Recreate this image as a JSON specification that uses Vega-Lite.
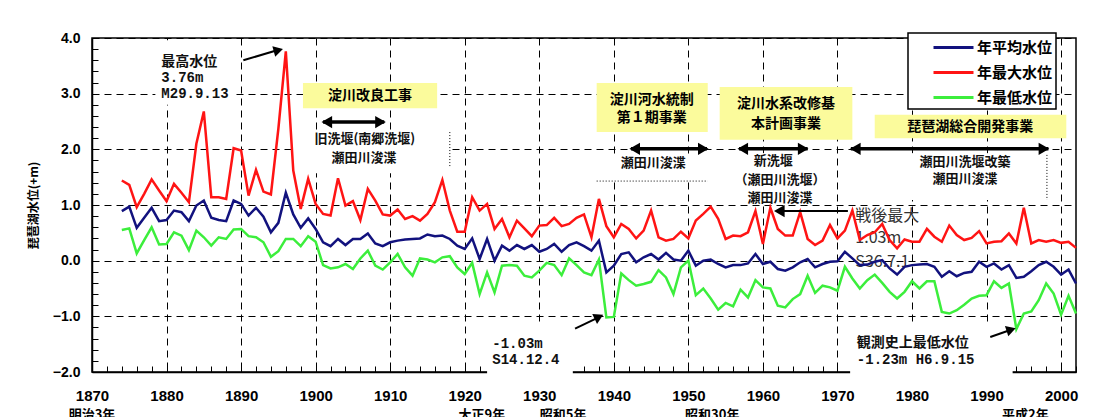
{
  "$schema": "https://vega.github.io/schema/vega-lite/v6.json",
  "width": 984,
  "height": 334,
  "autosize": {"type": "none"},
  "padding": {"left": 92, "top": 38, "right": 25, "bottom": 45},
  "background": "white",
  "config": {
    "view": {"stroke": "black", "strokeWidth": 1.5},
    "legend": {"strokeWidth": 1.5}
  },
  "datasets": {
    "lake": [
      {"year":1874,"年平均水位":0.89,"年最大水位":1.44,"年最低水位":0.55},
      {"year":1875,"年平均水位":0.97,"年最大水位":1.36,"年最低水位":0.58},
      {"year":1876,"年平均水位":0.59,"年最大水位":0.96,"年最低水位":0.13},
      {"year":1877,"年平均水位":0.77,"年最大水位":1.20,"年最低水位":0.37},
      {"year":1878,"年平均水位":0.95,"年最大水位":1.46,"年最低水位":0.60},
      {"year":1879,"年平均水位":0.71,"年最大水位":1.26,"年最低水位":0.29},
      {"year":1880,"年平均水位":0.73,"年最大水位":1.07,"年最低水位":0.30},
      {"year":1881,"年平均水位":0.90,"年最大水位":1.38,"年最低水位":0.51},
      {"year":1882,"年平均水位":0.87,"年最大水位":1.22,"年最低水位":0.45},
      {"year":1883,"年平均水位":0.71,"年最大水位":1.05,"年最低水位":0.19},
      {"year":1884,"年平均水位":0.99,"年最大水位":2.10,"年最低水位":0.54},
      {"year":1885,"年平均水位":1.08,"年最大水位":2.68,"年最低水位":0.42},
      {"year":1886,"年平均水位":0.77,"年最大水位":1.14,"年最低水位":0.27},
      {"year":1887,"年平均水位":0.73,"年最大水位":1.14,"年最低水位":0.42},
      {"year":1888,"年平均水位":0.71,"年最大水位":1.11,"年最低水位":0.39},
      {"year":1889,"年平均水位":1.08,"年最大水位":2.02,"年最低水位":0.56},
      {"year":1890,"年平均水位":1.02,"年最大水位":1.98,"年最低水位":0.57},
      {"year":1891,"年平均水位":0.81,"年最大水位":1.17,"年最低水位":0.44},
      {"year":1892,"年平均水位":0.95,"年最大水位":1.63,"年最低水位":0.42},
      {"year":1893,"年平均水位":0.79,"年最大水位":1.24,"年最低水位":0.33},
      {"year":1894,"年平均水位":0.51,"年最大水位":1.19,"年最低水位":0.07},
      {"year":1895,"年平均水位":0.68,"年最大水位":2.37,"年最低水位":0.17},
      {"year":1896,"年平均水位":1.22,"年最大水位":3.76,"年最低水位":0.39},
      {"year":1897,"年平均水位":0.83,"年最大水位":1.62,"年最低水位":0.39},
      {"year":1898,"年平均水位":0.59,"年最大水位":0.93,"年最低水位":0.26},
      {"year":1899,"年平均水位":0.76,"年最大水位":1.47,"年最低水位":0.44},
      {"year":1900,"年平均水位":0.57,"年最大水位":1.02,"年最低水位":0.34},
      {"year":1901,"年平均水位":0.33,"年最大水位":0.84,"年最低水位":-0.08},
      {"year":1902,"年平均水位":0.26,"年最大水位":0.81,"年最低水位":-0.14},
      {"year":1903,"年平均水位":0.39,"年最大水位":1.48,"年最低水位":-0.12},
      {"year":1904,"年平均水位":0.28,"年最大水位":0.99,"年最低水位":-0.06},
      {"year":1905,"年平均水位":0.39,"年最大水位":1.07,"年最低水位":-0.15},
      {"year":1906,"年平均水位":0.39,"年最大水位":0.73,"年最低水位":0.04},
      {"year":1907,"年平均水位":0.49,"年最大水位":1.29,"年最低水位":0.18},
      {"year":1908,"年平均水位":0.31,"年最大水位":1.08,"年最低水位":-0.09},
      {"year":1909,"年平均水位":0.26,"年最大水位":0.83,"年最低水位":-0.16},
      {"year":1910,"年平均水位":0.33,"年最大水位":0.81,"年最低水位":-0.03},
      {"year":1911,"年平均水位":0.36,"年最大水位":0.92,"年最低水位":0.12},
      {"year":1912,"年平均水位":0.38,"年最大水位":0.75,"年最低水位":-0.12},
      {"year":1913,"年平均水位":0.39,"年最大水位":0.80,"年最低水位":-0.27},
      {"year":1914,"年平均水位":0.40,"年最大水位":0.72,"年最低水位":0.04},
      {"year":1915,"年平均水位":0.47,"年最大水位":0.84,"年最低水位":0.02},
      {"year":1916,"年平均水位":0.44,"年最大水位":1.05,"年最低水位":-0.03},
      {"year":1917,"年平均水位":0.45,"年最大水位":1.45,"年最低水位":0.06},
      {"year":1918,"年平均水位":0.39,"年最大水位":0.90,"年最低水位":0.08},
      {"year":1919,"年平均水位":0.27,"年最大水位":0.52,"年最低水位":-0.12},
      {"year":1920,"年平均水位":0.21,"年最大水位":0.52,"年最低水位":-0.24},
      {"year":1921,"年平均水位":0.40,"年最大水位":1.14,"年最低水位":-0.04},
      {"year":1922,"年平均水位":0.03,"年最大水位":0.90,"年最低水位":-0.60},
      {"year":1923,"年平均水位":0.39,"年最大水位":1.02,"年最低水位":-0.21},
      {"year":1924,"年平均水位":0.00,"年最大水位":0.57,"年最低水位":-0.57},
      {"year":1925,"年平均水位":0.27,"年最大水位":0.75,"年最低水位":-0.09},
      {"year":1926,"年平均水位":0.18,"年最大水位":0.42,"年最低水位":-0.08},
      {"year":1927,"年平均水位":0.28,"年最大水位":0.72,"年最低水位":-0.09},
      {"year":1928,"年平均水位":0.21,"年最大水位":0.58,"年最低水位":-0.27},
      {"year":1929,"年平均水位":0.28,"年最大水位":0.44,"年最低水位":-0.30},
      {"year":1930,"年平均水位":0.16,"年最大水位":0.63,"年最低水位":-0.18},
      {"year":1931,"年平均水位":0.21,"年最大水位":0.64,"年最低水位":-0.04},
      {"year":1932,"年平均水位":0.30,"年最大水位":0.77,"年最低水位":-0.08},
      {"year":1933,"年平均水位":0.16,"年最大水位":0.62,"年最低水位":-0.26},
      {"year":1934,"年平均水位":0.28,"年最大水位":0.66,"年最低水位":0.04},
      {"year":1935,"年平均水位":0.33,"年最大水位":0.77,"年最低水位":-0.08},
      {"year":1936,"年平均水位":0.26,"年最大水位":0.83,"年最低水位":-0.21},
      {"year":1937,"年平均水位":0.18,"年最大水位":0.42,"年最低水位":-0.26},
      {"year":1938,"年平均水位":0.36,"年最大水位":1.11,"年最低水位":0.02},
      {"year":1939,"年平均水位":-0.21,"年最大水位":0.62,"年最低水位":-1.02},
      {"year":1940,"年平均水位":-0.09,"年最大水位":0.42,"年最低水位":-1.01},
      {"year":1941,"年平均水位":0.12,"年最大水位":0.66,"年最低水位":-0.23},
      {"year":1942,"年平均水位":0.15,"年最大水位":0.57,"年最低水位":-0.35},
      {"year":1943,"年平均水位":-0.03,"年最大水位":0.40,"年最低水位":-0.45},
      {"year":1944,"年平均水位":0.06,"年最大水位":0.54,"年最低水位":-0.42},
      {"year":1945,"年平均水位":0.12,"年最大水位":0.90,"年最低水位":-0.38},
      {"year":1946,"年平均水位":0.02,"年最大水位":0.42,"年最低水位":-0.17},
      {"year":1947,"年平均水位":0.14,"年最大水位":0.36,"年最低水位":-0.30},
      {"year":1948,"年平均水位":0.02,"年最大水位":0.39,"年最低水位":-0.60},
      {"year":1949,"年平均水位":0.00,"年最大水位":0.52,"年最低水位":-0.12},
      {"year":1950,"年平均水位":0.18,"年最大水位":0.40,"年最低水位":0.00},
      {"year":1951,"年平均水位":-0.09,"年最大水位":0.72,"年最低水位":-0.62},
      {"year":1952,"年平均水位":0.00,"年最大水位":0.84,"年最低水位":-0.50},
      {"year":1953,"年平均水位":0.02,"年最大水位":0.97,"年最低水位":-0.68},
      {"year":1954,"年平均水位":-0.06,"年最大水位":0.75,"年最低水位":-0.88},
      {"year":1955,"年平均水位":-0.12,"年最大水位":0.39,"年最低水位":-0.76},
      {"year":1956,"年平均水位":-0.08,"年最大水位":0.45,"年最低水位":-0.82},
      {"year":1957,"年平均水位":-0.08,"年最大水位":0.44,"年最低水位":-0.52},
      {"year":1958,"年平均水位":-0.05,"年最大水位":0.51,"年最低水位":-0.66},
      {"year":1959,"年平均水位":0.12,"年最大水位":0.89,"年最低水位":-0.35},
      {"year":1960,"年平均水位":-0.06,"年最大水位":0.30,"年最低水位":-0.48},
      {"year":1961,"年平均水位":-0.02,"年最大水位":0.95,"年最低水位":-0.50},
      {"year":1962,"年平均水位":-0.15,"年最大水位":0.57,"年最低水位":-0.81},
      {"year":1963,"年平均水位":-0.18,"年最大水位":0.45,"年最低水位":-0.84},
      {"year":1964,"年平均水位":-0.12,"年最大水位":0.45,"年最低水位":-0.69},
      {"year":1965,"年平均水位":-0.03,"年最大水位":0.87,"年最低水位":-0.60},
      {"year":1966,"年平均水位":0.03,"年最大水位":0.39,"年最低水位":-0.27},
      {"year":1967,"年平均水位":-0.12,"年最大水位":0.28,"年最低水位":-0.58},
      {"year":1968,"年平均水位":-0.06,"年最大水位":0.36,"年最低水位":-0.45},
      {"year":1969,"年平均水位":-0.02,"年最大水位":0.64,"年最低水位":-0.48},
      {"year":1970,"年平均水位":-0.01,"年最大水位":0.40,"年最低水位":-0.54},
      {"year":1971,"年平均水位":0.16,"年最大水位":0.54,"年最低水位":-0.11},
      {"year":1972,"年平均水位":0.04,"年最大水位":0.90,"年最低水位":-0.32},
      {"year":1973,"年平均水位":-0.08,"年最大水位":0.37,"年最低水位":-0.50},
      {"year":1974,"年平均水位":-0.07,"年最大水位":0.46,"年最低水位":-0.35},
      {"year":1975,"年平均水位":-0.02,"年最大水位":0.51,"年最低水位":-0.25},
      {"year":1976,"年平均水位":0.01,"年最大水位":0.66,"年最低水位":-0.40},
      {"year":1977,"年平均水位":-0.14,"年最大水位":0.37,"年最低水位":-0.56},
      {"year":1978,"年平均水位":-0.25,"年最大水位":0.22,"年最低水位":-0.68},
      {"year":1979,"年平均水位":-0.11,"年最大水位":0.38,"年最低水位":-0.56},
      {"year":1980,"年平均水位":-0.08,"年最大水位":0.34,"年最低水位":-0.37},
      {"year":1981,"年平均水位":-0.07,"年最大水位":0.34,"年最低水位":-0.50},
      {"year":1982,"年平均水位":-0.06,"年最大水位":0.57,"年最低水位":-0.37},
      {"year":1983,"年平均水位":-0.11,"年最大水位":0.43,"年最低水位":-0.37},
      {"year":1984,"年平均水位":-0.29,"年最大水位":0.34,"年最低水位":-0.92},
      {"year":1985,"年平均水位":-0.19,"年最大水位":0.63,"年最低水位":-0.95},
      {"year":1986,"年平均水位":-0.28,"年最大水位":0.46,"年最低水位":-0.89},
      {"year":1987,"年平均水位":-0.22,"年最大水位":0.37,"年最低水位":-0.79},
      {"year":1988,"年平均水位":-0.20,"年最大水位":0.41,"年最低水位":-0.68},
      {"year":1989,"年平均水位":-0.02,"年最大水位":0.53,"年最低水位":-0.63},
      {"year":1990,"年平均水位":-0.11,"年最大水位":0.31,"年最低水位":-0.62},
      {"year":1991,"年平均水位":-0.05,"年最大水位":0.34,"年最低水位":-0.37},
      {"year":1992,"年平均水位":-0.16,"年最大水位":0.35,"年最低水位":-0.49},
      {"year":1993,"年平均水位":-0.08,"年最大水位":0.49,"年最低水位":-0.41},
      {"year":1994,"年平均水位":-0.31,"年最大水位":0.31,"年最低水位":-1.23},
      {"year":1995,"年平均水位":-0.29,"年最大水位":0.95,"年最低水位":-0.95},
      {"year":1996,"年平均水位":-0.19,"年最大水位":0.31,"年最低水位":-0.91},
      {"year":1997,"年平均水位":-0.08,"年最大水位":0.37,"年最低水位":-0.71},
      {"year":1998,"年平均水位":-0.02,"年最大水位":0.34,"年最低水位":-0.41},
      {"year":1999,"年平均水位":-0.11,"年最大水位":0.37,"年最低水位":-0.59},
      {"year":2000,"年平均水位":-0.25,"年最大水位":0.32,"年最低水位":-0.97},
      {"year":2001,"年平均水位":-0.16,"年最大水位":0.34,"年最低水位":-0.63},
      {"year":2002,"年平均水位":-0.41,"年最大水位":0.23,"年最低水位":-0.95}
    ],
    "whites": [
      {"year":1878.5,"year2":1888.8,"level":3.96,"level2":2.80},
      {"year":1897.0,"year2":1917.8,"level":2.29,"level2":1.57},
      {"year":1937.7,"year2":1952.6,"level":1.90,"level2":1.45},
      {"year":1955.6,"year2":1969.0,"level":1.93,"level2":1.04},
      {"year":1971.7,"year2":1997.8,"level":1.93,"level2":1.09},
      {"year":1923.0,"year2":1934.5,"level":-1.16,"level2":-2.14},
      {"year":1971.7,"year2":1993.5,"level":-1.16,"level2":-2.14}
    ],
    "boxes": [
      {"year":1898.3,"year2":1916.3,"level":3.19,"level2":2.74},
      {"year":1937.7,"year2":1952.6,"level":3.19,"level2":2.31},
      {"year":1954.2,"year2":1972.0,"level":3.12,"level2":2.17},
      {"year":1975.0,"year2":2000.7,"level":2.62,"level2":2.20}
    ],
    "shafts": [
      {"year":1901.0,"year2":1909.2,"level":2.49,"level2":2.49,"kind":"double"},
      {"year":1942.3,"year2":1952.5,"level":2.01,"level2":2.01,"kind":"double"},
      {"year":1956.8,"year2":1966.0,"level":2.01,"level2":2.01,"kind":"double"},
      {"year":1971.8,"year2":1998.3,"level":2.01,"level2":2.01,"kind":"double"},
      {"year":1890.3,"year2":1894.6,"level":3.60,"level2":3.77,"kind":"single"},
      {"year":1971.4,"year2":1962.6,"level":0.89,"level2":0.89,"kind":"single"},
      {"year":1934.8,"year2":1937.6,"level":-1.22,"level2":-1.04,"kind":"single"},
      {"year":1990.5,"year2":1992.9,"level":-1.37,"level2":-1.26,"kind":"single"},
      {"year":1918.0,"year2":1918.0,"level":2.31,"level2":1.67,"kind":"dotted"},
      {"year":1937.7,"year2":1952.6,"level":1.43,"level2":1.43,"kind":"dotted"},
      {"year":1998.1,"year2":1998.1,"level":1.90,"level2":1.09,"kind":"dotted"}
    ],
    "heads": [
      {"year":1901.5,"level":2.49,"dir":"L"},
      {"year":1942.8,"level":2.01,"dir":"L"},
      {"year":1957.3,"level":2.01,"dir":"L"},
      {"year":1972.4,"level":2.01,"dir":"L"},
      {"year":1962.2,"level":0.89,"dir":"L"},
      {"year":1908.7,"level":2.49,"dir":"R"},
      {"year":1952.0,"level":2.01,"dir":"R"},
      {"year":1965.4,"level":2.01,"dir":"R"},
      {"year":1997.7,"level":2.01,"dir":"R"},
      {"year":1895.0,"level":3.78,"dir":"A"},
      {"year":1938.0,"level":-1.01,"dir":"B"},
      {"year":1993.3,"level":-1.24,"dir":"C"}
    ],
    "notes": [
      {"year":1907.3,"level":2.96,"text":"淀川改良工事","kind":"box"},
      {"year":1945.1,"level":2.88,"text":"淀川河水統制","kind":"box"},
      {"year":1945.1,"level":2.57,"text":"第１期事業","kind":"box"},
      {"year":1963.1,"level":2.81,"text":"淀川水系改修基","kind":"box"},
      {"year":1963.1,"level":2.45,"text":"本計画事業","kind":"box"},
      {"year":1987.8,"level":2.40,"text":"琵琶湖総合開発事業","kind":"box"},
      {"year":1906.6,"level":2.19,"text":"旧洗堰(南郷洗堰)","kind":"block"},
      {"year":1906.5,"level":1.85,"text":"瀬田川浚渫","kind":"block"},
      {"year":1945.3,"level":1.76,"text":"瀬田川浚渫","kind":"block"},
      {"year":1961.4,"level":1.79,"text":"新洗堰","kind":"block"},
      {"year":1962.3,"level":1.45,"text":"（瀬田川洗堰）","kind":"block"},
      {"year":1962.3,"level":1.12,"text":"瀬田川浚渫","kind":"block"},
      {"year":1987.1,"level":1.78,"text":"瀬田川洗堰改築","kind":"block"},
      {"year":1987.1,"level":1.46,"text":"瀬田川浚渫","kind":"block"},
      {"year":1879.3,"level":3.57,"text":"最高水位","kind":"note"},
      {"year":1972.6,"level":-1.48,"text":"観測史上最低水位","kind":"note"},
      {"year":1879.3,"level":3.28,"text":"3.76m","kind":"mono"},
      {"year":1879.3,"level":2.99,"text":"M29.9.13","kind":"mono"},
      {"year":1923.7,"level":-1.50,"text":"-1.03m","kind":"mono"},
      {"year":1923.7,"level":-1.78,"text":"S14.12.4","kind":"mono"},
      {"year":1972.6,"level":-1.78,"text":"-1.23m  H6.9.15","kind":"mono"},
      {"year":1972.4,"level":0.81,"text":"戦後最大","kind":"postwar"},
      {"year":1972.4,"level":0.40,"text":"1.03m","kind":"postwar"},
      {"year":1972.4,"level":-0.02,"text":"S36.7.1","kind":"postwar"},
      {"year":1870.0,"level":-2.78,"text":"明治3年","kind":"era"},
      {"year":1922.3,"level":-2.78,"text":"大正9年","kind":"era"},
      {"year":1933.2,"level":-2.78,"text":"昭和5年","kind":"era"},
      {"year":1953.2,"level":-2.78,"text":"昭和30年","kind":"era"},
      {"year":1995.2,"level":-2.78,"text":"平成2年","kind":"era"}
    ]
  },
  "encoding": {
    "x": {
      "field": "year", "type": "quantitative",
      "scale": {"domain": [1870, 2002], "nice": false, "zero": false},
      "axis": {
        "title": null,
        "values": [1870,1872,1874,1876,1878,1880,1882,1884,1886,1888,1890,1892,1894,1896,1898,1900,1902,1904,1906,1908,1910,1912,1914,1916,1918,1920,1922,1924,1926,1928,1930,1932,1934,1936,1938,1940,1942,1944,1946,1948,1950,1952,1954,1956,1958,1960,1962,1964,1966,1968,1970,1972,1974,1976,1978,1980,1982,1984,1986,1988,1990,1992,1994,1996,1998,2000,2002],
        "labelExpr": "datum.value % 10 === 0 ? datum.value : ''",
        "labelOverlap": false,
        "labelFlush": false,
        "labelFont": "Liberation Sans",
        "labelFontWeight": "bold",
        "labelFontSize": 15,
        "labelColor": "black",
        "labelPadding": 22,
        "tickSize": -6,
        "tickColor": "black",
        "tickWidth": 1,
        "domainColor": "black",
        "domainWidth": 1.5,
        "grid": true,
        "gridColor": "black",
        "gridDash": [7, 5],
        "gridWidth": 1,
        "gridOpacity": {"condition": {"test": "datum.value % 10 === 0", "value": 1}, "value": 0}
      }
    },
    "y": {
      "field": "level", "type": "quantitative",
      "scale": {"domain": [-2, 4], "nice": false, "zero": false},
      "axis": {
        "title": "琵琶湖水位(+m)",
        "titleFont": "Noto Sans CJK JP",
        "titleFontSize": 12,
        "titleFontWeight": "bold",
        "titleColor": "black",
        "titleX": -59,
        "titleBaseline": "middle",
        "values": [-2,-1.8,-1.6,-1.4,-1.2,-1,-0.8,-0.6,-0.4,-0.2,0,0.2,0.4,0.6,0.8,1,1.2,1.4,1.6,1.8,2,2.2,2.4,2.6,2.8,3,3.2,3.4,3.6,3.8,4],
        "labelExpr": "abs(datum.value - round(datum.value)) < 0.01 ? format(datum.value, '.1f') : ''",
        "labelOverlap": false,
        "labelFlush": false,
        "labelFont": "Liberation Sans",
        "labelFontWeight": "bold",
        "labelFontSize": 14,
        "labelColor": "black",
        "labelPadding": 18,
        "tickSize": -6,
        "tickColor": "black",
        "domainColor": "black",
        "domainWidth": 1.5,
        "grid": true,
        "gridColor": "black",
        "gridDash": [7, 5],
        "gridWidth": 1,
        "gridOpacity": {"condition": {"test": "abs(datum.value - round(datum.value)) < 0.01", "value": 1}, "value": 0}
      }
    }
  },
  "layer": [
    {
      "data": {"name": "whites"},
      "mark": {"type": "rect", "fill": "white", "strokeWidth": 0},
      "encoding": {"x2": {"field": "year2"}, "y2": {"field": "level2"}}
    },
    {
      "data": {"name": "boxes"},
      "mark": {"type": "rect", "fill": "#fbfb9c", "strokeWidth": 0},
      "encoding": {"x2": {"field": "year2"}, "y2": {"field": "level2"}}
    },
    {
      "data": {"name": "notes"},
      "transform": [{"filter": "datum.kind === 'postwar'"}],
      "mark": {"type": "text", "font": "Noto Sans CJK JP", "fontSize": 16, "align": "left", "baseline": "middle", "color": "#333333"},
      "encoding": {"text": {"field": "text"}}
    },
    {
      "data": {"name": "lake"},
      "transform": [{"fold": ["年平均水位", "年最大水位", "年最低水位"], "as": ["系列", "level"]}],
      "mark": {"type": "line", "strokeWidth": 2.5},
      "encoding": {
        "color": {
          "field": "系列", "type": "nominal",
          "scale": {"domain": ["年平均水位", "年最大水位", "年最低水位"], "range": ["#12127e", "#ff1414", "#3cee3c"]},
          "legend": {
            "title": null,
            "orient": "none",
            "legendX": 816,
            "legendY": -5,
            "direction": "vertical",
            "symbolType": "M-2,0H2",
            "symbolSize": 400,
            "symbolStrokeWidth": 3,
            "symbolOffset": 31,
            "labelOffset": 12,
            "labelFont": "Noto Sans CJK JP",
            "labelFontSize": 15,
            "labelFontWeight": "bold",
            "labelColor": "black",
            "labelExpr": "datum.label + '　　'",
            "padding": 3,
            "rowPadding": 5,
            "strokeColor": "black",
            "fillColor": "white"
          }
        }
      }
    },
    {
      "data": {"name": "shafts"},
      "transform": [{"filter": "datum.kind === 'double'"}],
      "mark": {"type": "rule", "strokeWidth": 3.5, "color": "black"},
      "encoding": {"x2": {"field": "year2"}, "y2": {"field": "level2"}}
    },
    {
      "data": {"name": "shafts"},
      "transform": [{"filter": "datum.kind === 'single'"}],
      "mark": {"type": "rule", "strokeWidth": 2, "color": "black"},
      "encoding": {"x2": {"field": "year2"}, "y2": {"field": "level2"}}
    },
    {
      "data": {"name": "shafts"},
      "transform": [{"filter": "datum.kind === 'dotted'"}],
      "mark": {"type": "rule", "strokeWidth": 1, "strokeDash": [1, 2], "color": "black"},
      "encoding": {"x2": {"field": "year2"}, "y2": {"field": "level2"}}
    },
    {
      "data": {"name": "heads"},
      "transform": [{"filter": "datum.dir === 'L'"}],
      "mark": {"type": "point", "shape": "triangle-left", "filled": true, "color": "black", "opacity": 1, "size": 150}
    },
    {
      "data": {"name": "heads"},
      "transform": [{"filter": "datum.dir === 'R'"}],
      "mark": {"type": "point", "shape": "triangle-right", "filled": true, "color": "black", "opacity": 1, "size": 150}
    },
    {
      "data": {"name": "heads"},
      "transform": [{"filter": "datum.dir === 'A'"}],
      "mark": {"type": "point", "shape": "triangle-right", "filled": true, "color": "black", "opacity": 1, "size": 120, "angle": 345}
    },
    {
      "data": {"name": "heads"},
      "transform": [{"filter": "datum.dir === 'B'"}],
      "mark": {"type": "point", "shape": "triangle-right", "filled": true, "color": "black", "opacity": 1, "size": 120, "angle": 334}
    },
    {
      "data": {"name": "heads"},
      "transform": [{"filter": "datum.dir === 'C'"}],
      "mark": {"type": "point", "shape": "triangle-right", "filled": true, "color": "black", "opacity": 1, "size": 120, "angle": 342}
    },
    {
      "data": {"name": "notes"},
      "transform": [{"filter": "datum.kind === 'box'"}],
      "mark": {"type": "text", "font": "Noto Sans CJK JP", "fontSize": 14, "fontWeight": "bold", "align": "center", "baseline": "middle", "color": "black"},
      "encoding": {"text": {"field": "text"}}
    },
    {
      "data": {"name": "notes"},
      "transform": [{"filter": "datum.kind === 'block'"}],
      "mark": {"type": "text", "font": "Noto Sans CJK JP", "fontSize": 13, "fontWeight": "bold", "align": "center", "baseline": "middle", "color": "#111111"},
      "encoding": {"text": {"field": "text"}}
    },
    {
      "data": {"name": "notes"},
      "transform": [{"filter": "datum.kind === 'note'"}],
      "mark": {"type": "text", "font": "Noto Sans CJK JP", "fontSize": 14, "fontWeight": "bold", "align": "left", "baseline": "middle", "color": "#111111"},
      "encoding": {"text": {"field": "text"}}
    },
    {
      "data": {"name": "notes"},
      "transform": [{"filter": "datum.kind === 'mono'"}],
      "mark": {"type": "text", "font": "Liberation Mono", "fontSize": 14, "fontWeight": "bold", "align": "left", "baseline": "middle", "color": "#111111"},
      "encoding": {"text": {"field": "text"}}
    },
    {
      "data": {"name": "notes"},
      "transform": [{"filter": "datum.kind === 'era'"}],
      "mark": {"type": "text", "font": "Noto Sans CJK JP", "fontSize": 13, "fontWeight": "bold", "align": "center", "baseline": "middle", "color": "black"},
      "encoding": {"text": {"field": "text"}}
    }
  ]
}
